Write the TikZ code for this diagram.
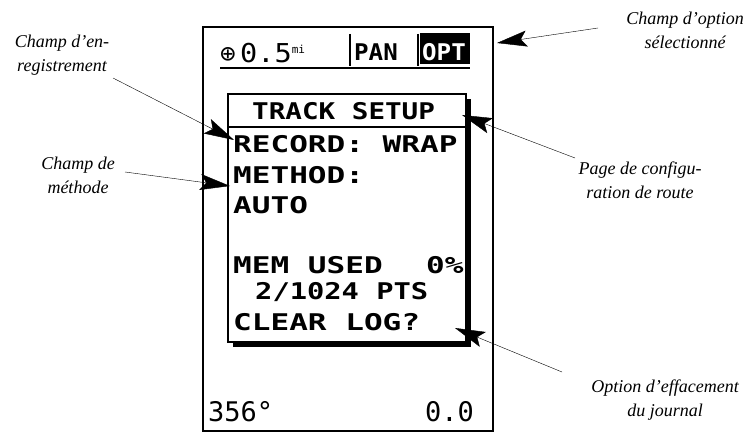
\documentclass[tikz,border=0pt]{standalone}
\usepackage{fontspec}
\usepackage{graphicx}
\setmainfont{Liberation Serif}
\newfontfamily\lcd{DejaVu Sans Mono}
\usetikzlibrary{arrows.meta}
\newcommand{\wide}[1]{\scalebox{1.35}[1]{#1}}
\begin{document}
\begin{tikzpicture}[x=1pt,y=-1pt,
  lbl/.style={font=\itshape\fontsize{18}{24}\selectfont,align=center,inner sep=1pt},
  lcdtxt/.style={font=\lcd\bfseries\fontsize{23}{24}\selectfont,anchor=base west,inner sep=0},
  callout/.style={-{Stealth[length=30pt,width=16pt,inset=6pt]},thin}]
\useasboundingbox (0,0) rectangle (751,435);
% screen
\draw[line width=1.6pt] (203,27) rectangle (493,431);
\draw[line width=2pt] (220,68) -- (470,68);
\draw[line width=1.2pt] (350,34) -- (350,66) (418,34) -- (418,66);
\fill (420,33) rectangle (470,64);
\node[lcdtxt,font=\lcd\fontsize{26}{26}\selectfont] (zoom) at (220,63) {⊕\,\scalebox{1.1}[1]{0.5}\textsuperscript{\fontsize{11}{11}\selectfont mi}};
\node[lcdtxt] (pan) at (354,61) {\scalebox{1.05}[1]{PAN}};
\node[lcdtxt,text=white] (opt) at (422,61) {\scalebox{1.05}[1]{OPT}};
% inner box
\fill (233,99) rectangle (471,347);
\draw[line width=1.5pt,fill=white] (228,94) rectangle (466,342);
\draw[line width=1.5pt] (228,127) -- (466,127);
\node[lcdtxt] (title) at (252,120) {\scalebox{1.2}[1]{TRACK SETUP}};
\node[lcdtxt] (rec) at (233,153) {\wide{RECORD: WRAP}};
\node[lcdtxt] (meth) at (233,184) {\wide{METHOD:}};
\node[lcdtxt] (auto) at (233,214) {\wide{AUTO}};
\node[lcdtxt] (mem) at (233,273) {\wide{MEM USED}};
\node[lcdtxt] (pct) at (426,273) {\wide{0\%}};
\node[lcdtxt] (pts) at (255,299) {\scalebox{1.25}[1]{2/1024 PTS}};
\node[lcdtxt] (clr) at (233,330) {\wide{CLEAR LOG?}};
\node[lcdtxt,font=\lcd\fontsize{27}{27}\selectfont] (hdg) at (208,421) {356°};
\node[lcdtxt,font=\lcd\fontsize{27}{27}\selectfont] (spd) at (425,421) {0.0};
% labels
\node[lbl] (l1) at (685,30) {Champ d'option\\sélectionné};
\node[lbl] (l2) at (62,55) {Champ d'en-\\registrement};
\node[lbl] (l3) at (78,175) {Champ de\\méthode};
\node[lbl] (l4) at (640,180) {Page de configu-\\ration de route};
\node[lbl] (l5) at (665,400) {Option d'effacement\\du journal};
\coordinate (a1) at (497,43);
\coordinate (a2) at (234,140);
\coordinate (a3) at (230,186);
\coordinate (a4) at (462,115);
\coordinate (a5) at (455,328);
\draw[callout] (598,28) -- (a1);
\draw[callout] (113,78) -- (a2);
\draw[callout] (125,172) -- (a3);
\draw[callout] (575,158) -- (a4);
\draw[callout] (562,372) -- (a5);
\end{tikzpicture}
\end{document}
